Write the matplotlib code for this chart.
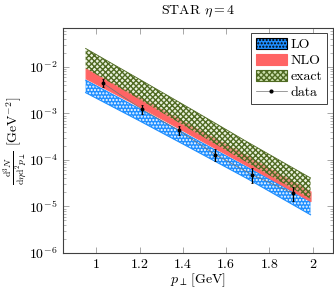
import numpy as np
import matplotlib.pyplot as plt
from matplotlib.patches import Patch
from matplotlib.lines import Line2D

plt.rcParams['font.family'] = 'serif'
plt.rcParams['font.serif'] = ['cmr10', 'DejaVu Serif']
plt.rcParams['mathtext.fontset'] = 'cm'
plt.rcParams['axes.formatter.use_mathtext'] = True
plt.rcParams['hatch.linewidth'] = 1.0

# band x grid
pt = [0.95, 1.2, 1.45, 1.7, 1.99]

# LO band
lo_low = [2.8e-3, 6.9e-4, 1.65e-4, 3.9e-5, 6.6e-6]
lo_up = [5.2e-3, 1.25e-3, 2.9e-4, 6.8e-5, 1.3e-5]
# NLO band
nlo_low = [5.7e-3, 1.4e-3, 3.2e-4, 7.4e-5, 1.3e-5]
nlo_up = [9.3e-3, 2.2e-3, 5.1e-4, 1.2e-4, 2.1e-5]
# exact band
ex_low = [9.3e-3, 2.0e-3, 4.1e-4, 8.6e-5, 1.45e-5]
ex_up = [2.5e-2, 5.4e-3, 1.15e-3, 2.4e-4, 4.1e-5]

# data
px = [1.03, 1.21, 1.38, 1.55, 1.72, 1.91]
py = [4.5e-3, 1.23e-3, 4.3e-4, 1.3e-4, 4.8e-5, 1.9e-5]
err_lo = [0.8e-3, 0.25e-3, 0.9e-4, 0.35e-4, 1.6e-5, 0.6e-5]
err_hi = [0.9e-3, 0.3e-3, 1.0e-4, 0.4e-4, 1.8e-5, 0.7e-5]

fig = plt.figure(figsize=(3.34, 2.91), dpi=100)
ax = fig.add_axes([0.189, 0.131, 0.808, 0.773])

blue = '#1f8fff'
red = '#ff6464'
olive = '#4f6a22'
fs = 10

# LO
ax.fill_between(pt, lo_low, lo_up, facecolor=blue, edgecolor='white',
                hatch='.....', linewidth=0, zorder=1)
ax.plot(pt, lo_low, color=blue, lw=0.8, zorder=1.1)
ax.plot(pt, lo_up, color=blue, lw=0.8, zorder=1.1)

# NLO
ax.fill_between(pt, nlo_low, nlo_up, facecolor=red, edgecolor=red,
                linewidth=0.8, zorder=2)

# exact
ax.fill_between(pt, ex_low, ex_up, facecolor=(0.80, 0.88, 0.68, 0.4),
                edgecolor=olive, hatch='xxxxxx', linewidth=0, zorder=3)
ax.plot(pt, ex_up, color=olive, lw=0.6, zorder=3.1)

# data
ax.plot(px, py, color='0.45', lw=0.5, zorder=4)
ax.errorbar(px, py, yerr=[err_lo, err_hi], fmt='none', ecolor='black',
            elinewidth=0.9, capsize=0.8, capthick=0.6, zorder=5)
ax.plot(px, py, 'o', color='black', ms=1.8, zorder=6)

ax.set_yscale('log')
ax.set_xlim(0.846, 2.094)
ax.set_ylim(1e-6, 6.9e-2)
ax.set_xticks([1, 1.2, 1.4, 1.6, 1.8, 2])
ax.set_xticklabels(['1', '1.2', '1.4', '1.6', '1.8', '2'])
ax.set_yticks([1e-6, 1e-5, 1e-4, 1e-3, 1e-2])

ax.tick_params(which='both', direction='in', top=True, right=True,
               color='0.6', labelsize=fs, pad=4)
ax.tick_params(which='major', length=4, width=0.6)
ax.tick_params(which='minor', length=2.2, width=0.5)
for s in ax.spines.values():
    s.set_color('0.25')
    s.set_linewidth(0.8)

ax.set_title(r'STAR $\eta = 4$', fontsize=fs, pad=10)
ax.set_xlabel(r'$p_\perp\,$[GeV]', fontsize=fs, labelpad=1)
ax.set_ylabel(r'$\frac{\mathrm{d}^3N}{\mathrm{d}\eta\mathrm{d}^2p_\perp}$ [GeV$^{-2}$]',
              fontsize=fs, labelpad=0)

# legend
handles = [
    Patch(facecolor=blue, edgecolor='black', hatch='.....', linewidth=0.8),
    Patch(facecolor=red, edgecolor=red, linewidth=0.8),
    Patch(facecolor=(0.80, 0.88, 0.68), edgecolor=olive, hatch='xxxxxx', linewidth=0.8),
    Line2D([], [], color='0.45', lw=0.5, marker='o', ms=2,
           markerfacecolor='black', markeredgecolor='black'),
]
leg = ax.legend(handles, ['LO', 'NLO', 'exact', 'data'], loc='upper right',
                fontsize=fs, fancybox=False, edgecolor='0.25', framealpha=1,
                handlelength=2.2, handleheight=0.8, handletextpad=0.3,
                borderpad=0.35, labelspacing=0.2, borderaxespad=0.4)
leg.get_frame().set_linewidth(0.7)

fig.savefig('out.png', dpi=100)
